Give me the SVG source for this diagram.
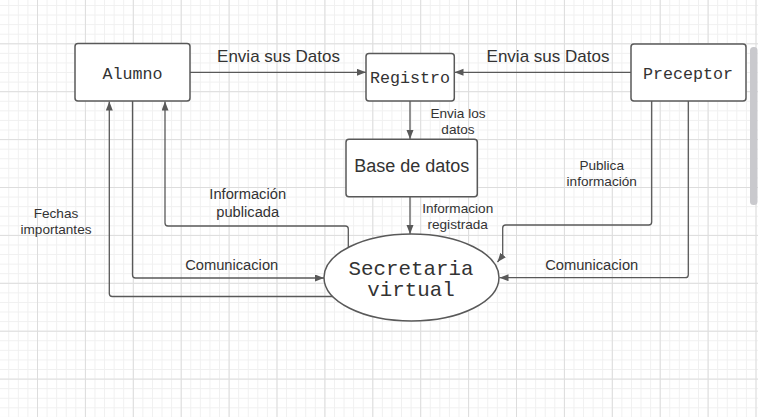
<svg xmlns="http://www.w3.org/2000/svg" width="758" height="417" viewBox="0 0 758 417">
<defs>
  <pattern id="minor" patternUnits="userSpaceOnUse" x="37" y="43.3" width="9.58" height="9.58">
    <path d="M0,0.5 H9.58 M0.5,0 V9.58" stroke="#f0f0f0" stroke-width="1" fill="none"/>
  </pattern>
  <pattern id="major" patternUnits="userSpaceOnUse" x="37" y="43.3" width="47.9" height="47.9">
    <path d="M0,0.5 H47.9 M0.5,0 V47.9" stroke="#dddddd" stroke-width="1" fill="none"/>
  </pattern>
  <marker id="arr" markerUnits="userSpaceOnUse" markerWidth="10" markerHeight="8" refX="9" refY="3.5" orient="auto">
    <path d="M0,0 L9,3.5 L0,7 z" fill="#595959"/>
  </marker>
  <style>
    .box { fill: #ffffff; stroke: #595959; stroke-width: 1.5; }
    .mono { font-family: "Liberation Mono", "DejaVu Sans Mono", monospace; fill: #333333; text-anchor: middle; }
    .sans { font-family: "Liberation Sans", Arial, sans-serif; fill: #333333; text-anchor: middle; }
    .lbl { font-size: 13.6px; }
    .lbl2 { font-size: 14.7px; }
    .big { font-size: 17px; }
    .conn { fill: none; stroke: #595959; stroke-width: 1.3; }
  </style>
</defs>
<rect x="0" y="0" width="758" height="417" fill="#ffffff"/>
<rect x="0" y="0" width="758" height="417" fill="url(#minor)"/>
<rect x="0" y="0" width="758" height="417" fill="url(#major)"/>
<rect x="750" y="47" width="7.5" height="158" rx="3.5" fill="#c9c9cd"/>

<g id="connectors">
  <path class="conn" d="M190,72.3 H366" marker-end="url(#arr)"/>
  <path class="conn" d="M631,72.3 H454.5" marker-end="url(#arr)"/>
  <path class="conn" d="M410,101 V139" marker-end="url(#arr)"/>
  <path class="conn" d="M410,197 V234" marker-end="url(#arr)"/>
  <path class="conn" d="M336.7,296.5 H112.3 Q109.3,296.5 109.3,293.5 V101.5" marker-end="url(#arr)"/>
  <path class="conn" d="M132.5,101 V275 Q132.5,278 135.5,278 H324" marker-end="url(#arr)"/>
  <path class="conn" d="M348.3,247.5 V229 Q348.3,226 345.3,226 H168 Q165,226 165,223 V101.5" marker-end="url(#arr)"/>
  <path class="conn" d="M651.7,101 V222 Q651.7,225 648.7,225 H505.7 Q502.7,225 502.7,228 V255.5 L497.5,262" marker-end="url(#arr)"/>
  <path class="conn" d="M688.3,101 V274.7 Q688.3,277.7 685.3,277.7 H499.5" marker-end="url(#arr)"/>
  <text class="sans big" x="278.5" y="62.3">Envia sus Datos</text>
  <text class="sans big" x="548" y="62.3">Envia sus Datos</text>
  <text class="sans lbl" x="458" y="118.3">Envia los</text>
  <text class="sans lbl" x="458" y="134.3">datos</text>
  <text class="sans lbl" x="457.7" y="213.3">Informacion</text>
  <text class="sans lbl" x="457.7" y="229.3">registrada</text>
  <text class="sans lbl" x="56" y="218">Fechas</text>
  <text class="sans lbl" x="56" y="234">importantes</text>
  <text class="sans lbl2" x="247.7" y="199">Información</text>
  <text class="sans lbl2" x="247.7" y="217">publicada</text>
  <text class="sans lbl2" x="231.7" y="270">Comunicacion</text>
  <text class="sans lbl" x="601.7" y="170">Publica</text>
  <text class="sans lbl" x="601.7" y="186">información</text>
  <text class="sans lbl2" x="591.7" y="269.5">Comunicacion</text>
</g>

<g id="alumno">
  <rect class="box" x="75" y="43.5" width="115" height="57.5" rx="3"/>
  <text class="mono" x="132.5" y="78.5" font-size="16.7">Alumno</text>
</g>
<g id="registro">
  <rect class="box" x="366" y="53.5" width="88.3" height="47.5" rx="3"/>
  <text class="mono" x="410" y="83" font-size="16.7">Registro</text>
</g>
<g id="preceptor">
  <rect class="box" x="631" y="44" width="115" height="57" rx="3"/>
  <text class="mono" x="688" y="78.5" font-size="16.7">Preceptor</text>
</g>
<g id="base-de-datos">
  <rect class="box" x="346" y="139.3" width="131.3" height="57.4" rx="3"/>
  <text class="sans" x="411.7" y="171.5" font-size="18">Base de datos</text>
</g>
<g id="secretaria-virtual">
  <ellipse class="box" cx="411.5" cy="277.5" rx="87.5" ry="43.5"/>
  <text class="mono" x="411" y="274.5" font-size="20.8">Secretaria</text>
  <text class="mono" x="411" y="296" font-size="20.8">virtual</text>
</g>
</svg>
